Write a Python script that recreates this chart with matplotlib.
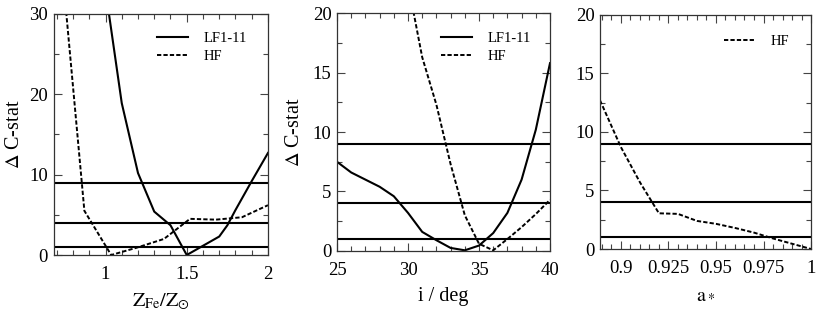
import matplotlib
matplotlib.use("Agg")
import matplotlib.pyplot as plt
from matplotlib.ticker import MultipleLocator, FuncFormatter

plt.rcParams['font.family'] = ['Liberation Serif', 'DejaVu Serif']
plt.rcParams['mathtext.fontset'] = 'stix'

# Panel 1: iron abundance
zfe_lf = [1.0, 1.1, 1.2, 1.3, 1.4, 1.5, 1.7, 1.75, 1.8, 1.9, 2.0]
dc_zfe_lf = [33.0, 18.9, 10.2, 5.4, 3.7, 0.0, 2.3, 3.7, 5.6, 9.2, 12.7]
zfe_hf = [0.70, 0.87, 1.035, 1.19, 1.36, 1.52, 1.68, 1.84, 2.0]
dc_zfe_hf = [43.0, 5.5, 0.0, 0.9, 2.0, 4.5, 4.4, 4.7, 6.2]

# Panel 2: inclination
inc = [25, 26, 27, 28, 29, 30, 31, 32, 33, 34, 35, 36, 37, 38, 39, 40]
dc_inc_lf = [7.5, 6.6, 6.0, 5.4, 4.6, 3.2, 1.6, 0.9, 0.25, 0.05, 0.45, 1.5, 3.2, 6.0, 10.2, 15.8]
inc_hf = [30, 31, 32, 33, 34, 35, 36, 37, 38, 39, 40]
dc_inc_hf = [22.5, 16.3, 12.3, 7.3, 3.0, 0.6, 0.05, 1.0, 2.0, 3.1, 4.3]

# Panel 3: spin
spin = [0.889, 0.90, 0.91, 0.92, 0.93, 0.94, 0.95, 0.96, 0.97, 0.98, 0.99, 1.0]
dc_spin_hf = [12.7, 8.7, 5.7, 3.05, 3.0, 2.4, 2.15, 1.8, 1.4, 0.9, 0.45, 0.0]

levels = [1, 4, 9]

fig = plt.figure(figsize=(8.17, 3.16), dpi=100)
ax1 = fig.add_axes([0.0655, 0.193, 0.2625, 0.763])
ax2 = fig.add_axes([0.4125, 0.206, 0.2607, 0.752])
ax3 = fig.add_axes([0.7344, 0.212, 0.2583, 0.741])

dash = (2.2, 1.1)
fs = 13.5

ax1.plot(zfe_lf, dc_zfe_lf, color='black', lw=1.5, label='LF1-11')
ax1.plot(zfe_hf, dc_zfe_hf, color='black', lw=1.4, dashes=dash, label='HF')
ax2.plot(inc, dc_inc_lf, color='black', lw=1.5, label='LF1-11')
ax2.plot(inc_hf, dc_inc_hf, color='black', lw=1.4, dashes=dash, label='HF')
ax3.plot(spin, dc_spin_hf, color='black', lw=1.4, dashes=dash, label='HF')

for ax in (ax1, ax2, ax3):
    for lv in levels:
        ax.axhline(lv, color='black', lw=1.5)
    ax.tick_params(which='both', direction='in', top=True, right=True,
                   labelsize=fs, color='#444444')
    ax.tick_params(axis='x', which='both', pad=8)
    ax.tick_params(axis='y', which='both', pad=4)
    ax.tick_params(which='major', length=6, width=0.8)
    ax.tick_params(which='minor', length=3.5, width=0.8)
    for s in ax.spines.values():
        s.set_linewidth(0.9)
        s.set_color('#333333')
    ax.xaxis.set_major_formatter(FuncFormatter(lambda v, p: '%g' % round(v, 4)))

ax1.set_xlim(0.68, 2.0)
ax1.set_ylim(0, 30)
ax1.xaxis.set_major_locator(MultipleLocator(0.5))
ax1.xaxis.set_minor_locator(MultipleLocator(0.1))
ax1.yaxis.set_major_locator(MultipleLocator(10))
ax1.yaxis.set_minor_locator(MultipleLocator(5))
ax1.set_xlabel(r'$\mathrm{Z_{Fe}/Z_{\odot}}$', fontsize=fs + 1, labelpad=6)
ax1.set_ylabel(r'$\Delta$ C-stat', fontsize=fs + 1, labelpad=4)

ax2.set_xlim(25, 40)
ax2.set_ylim(0, 20)
ax2.xaxis.set_major_locator(MultipleLocator(5))
ax2.xaxis.set_minor_locator(MultipleLocator(1))
ax2.yaxis.set_major_locator(MultipleLocator(5))
ax2.yaxis.set_minor_locator(MultipleLocator(2.5))
ax2.set_xlabel('i / deg', fontsize=fs + 1, labelpad=6)
ax2.set_ylabel(r'$\Delta$ C-stat', fontsize=fs + 1, labelpad=6)

ax3.set_xlim(0.889, 1.0)
ax3.set_ylim(0, 20)
ax3.xaxis.set_major_locator(MultipleLocator(0.025))
ax3.xaxis.set_minor_locator(MultipleLocator(0.005))
ax3.yaxis.set_major_locator(MultipleLocator(5))
ax3.yaxis.set_minor_locator(MultipleLocator(2.5))
ax3.set_xlabel(r'$\mathrm{a_*}$', fontsize=fs + 1, labelpad=6)

leg_kw = dict(loc='upper left', frameon=False, fontsize=10.5, borderpad=0,
              borderaxespad=0, handlelength=2.1, handletextpad=1.1,
              labelspacing=0.3)
ax1.legend(bbox_to_anchor=(0.483, 0.925), **leg_kw)
ax2.legend(bbox_to_anchor=(0.49, 0.92), **leg_kw)
ax3.legend(bbox_to_anchor=(0.588, 0.915), **leg_kw)

fig.savefig('out.png', dpi=100)
